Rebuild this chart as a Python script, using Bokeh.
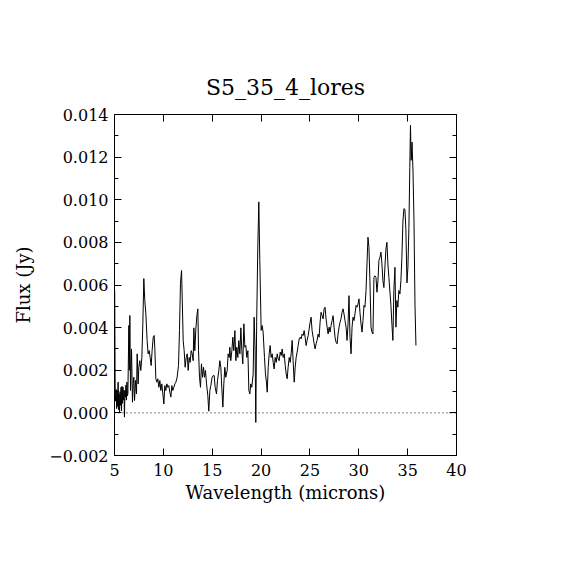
from bokeh.plotting import figure
from bokeh.models import LinearAxis, FixedTicker, Span
from bokeh.embed import file_html
from bokeh.resources import INLINE

title_text = "S5_35_4_lores"
x_label = "Wavelength (microns)"
y_label = "Flux (Jy)"

wavelength = [
    5.02, 5.07, 5.12, 5.17, 5.22, 5.27, 5.32, 5.37, 5.42, 5.47,
    5.52, 5.57, 5.62, 5.67, 5.72, 5.77, 5.82, 5.87, 5.92, 5.97,
    6.02, 6.07, 6.12, 6.17, 6.22, 6.27, 6.32, 6.37, 6.47, 6.52,
    6.57, 6.64, 6.74, 6.84, 6.91, 6.98, 7.05, 7.15, 7.25, 7.32,
    7.42, 7.49, 7.59, 7.69, 7.80, 7.90, 8.00, 8.10, 8.21, 8.34,
    8.44, 8.55, 8.65, 8.75, 8.85, 8.96, 9.06, 9.13, 9.23, 9.33,
    9.43, 9.54, 9.64, 9.74, 9.84, 9.95, 10.05, 10.15, 10.25, 10.36,
    10.46, 10.56, 10.66, 10.77, 10.87, 10.97, 11.07, 11.18, 11.28, 11.41,
    11.55, 11.65, 11.75, 11.86, 11.92, 12.03, 12.13, 12.23, 12.34, 12.44,
    12.54, 12.64, 12.74, 12.85, 12.95, 13.05, 13.12, 13.22, 13.32, 13.43,
    13.53, 13.60, 13.70, 13.80, 13.90, 14.01, 14.11, 14.21, 14.31, 14.42,
    14.55, 14.65, 14.76, 14.86, 14.99, 15.10, 15.20, 15.30, 15.44, 15.54,
    15.68, 15.78, 15.88, 15.98, 16.09, 16.19, 16.29, 16.39, 16.53, 16.63,
    16.74, 16.80, 16.90, 17.01, 17.11, 17.21, 17.32, 17.42, 17.52, 17.62,
    17.72, 17.83, 17.93, 18.03, 18.13, 18.24, 18.34, 18.44, 18.54, 18.65,
    18.75, 18.85, 18.95, 19.05, 19.19, 19.29, 19.39, 19.46, 19.55, 19.67,
    19.77, 19.87, 20.01, 20.11, 20.21, 20.35, 20.45, 20.55, 20.63, 20.73,
    20.83, 20.93, 21.03, 21.14, 21.24, 21.34, 21.44, 21.55, 21.65, 21.75,
    21.85, 21.96, 22.06, 22.16, 22.26, 22.37, 22.47, 22.57, 22.67, 22.77,
    22.88, 22.98, 23.08, 23.18, 23.28, 23.39, 23.49, 23.59, 23.69, 23.80,
    23.90, 24.00, 24.10, 24.20, 24.30, 24.41, 24.51, 24.61, 24.71, 24.82,
    24.92, 25.02, 25.12, 25.22, 25.33, 25.43, 25.53, 25.63, 25.73, 25.84,
    25.94, 26.04, 26.14, 26.25, 26.35, 26.45, 26.55, 26.65, 26.76, 26.86,
    26.96, 27.06, 27.16, 27.27, 27.37, 27.47, 27.57, 27.67, 27.78, 27.88,
    27.98, 28.08, 28.18, 28.29, 28.39, 28.49, 28.59, 28.70, 28.80, 28.90,
    29.00, 29.10, 29.21, 29.31, 29.41, 29.51, 29.61, 29.72, 29.82, 29.92,
    30.02, 30.12, 30.23, 30.33, 30.43, 30.53, 30.63, 30.74, 30.84, 30.94,
    31.04, 31.14, 31.25, 31.35, 31.45, 31.55, 31.65, 31.76, 31.86, 31.96,
    32.06, 32.17, 32.27, 32.37, 32.47, 32.57, 32.68, 32.78, 32.88, 32.98,
    33.08, 33.19, 33.29, 33.39, 33.49, 33.59, 33.70, 33.80, 33.90, 34.00,
    34.10, 34.21, 34.31, 34.41, 34.52, 34.62, 34.72, 34.82, 34.93, 35.03,
    35.13, 35.22, 35.29, 35.36, 35.45, 35.55, 35.65, 35.75, 35.85,
]

flux = [
    0.00575, 0.00100, 0.00055, 0.00110, 0.00020, 0.00105, 0.00030, 0.00144, 0.00015, 0.00089,
    0.00005, 0.00100, 0.00035, 0.00120, 0.00010, 0.00125, 0.00045, 0.00120, 0.00060, 0.00105,
    -0.00020, 0.00105, 0.00074, 0.00130, 0.00060, 0.00144, 0.00080, 0.00090, 0.00410, 0.00200,
    0.00457, 0.00105, 0.00300, 0.00050, 0.00136, 0.00167, 0.00058, 0.00152, 0.00089, 0.00277,
    0.00136, 0.00214, 0.00245, 0.00199, 0.00260, 0.00418, 0.00630, 0.00527, 0.00464, 0.00339,
    0.00277, 0.00292, 0.00260, 0.00222, 0.00292, 0.00355, 0.00363, 0.00300, 0.00160, 0.00144,
    0.00160, 0.00120, 0.00152, 0.00105, 0.00136, 0.00089, 0.00042, 0.00128, 0.00105, 0.00136,
    0.00120, 0.00128, 0.00097, 0.00074, 0.00128, 0.00105, 0.00120, 0.00136, 0.00144, 0.00167,
    0.00222, 0.00386, 0.00606, 0.00668, 0.00558, 0.00339, 0.00292, 0.00214, 0.00260, 0.00277,
    0.00199, 0.00260, 0.00237, 0.00292, 0.00277, 0.00245, 0.00399, 0.00292, 0.00390, 0.00457,
    0.00488, 0.00292, 0.00167, 0.00120, 0.00230, 0.00167, 0.00214, 0.00167, 0.00199, 0.00136,
    0.00081, 0.00008, 0.00105, 0.00128, 0.00167, 0.00175, 0.00175, 0.00120, 0.00089, 0.00152,
    0.00199, 0.00245, 0.00214, 0.00120, 0.00027, 0.00136, 0.00214, 0.00167, 0.00199, 0.00277,
    0.00260, 0.00308, 0.00245, 0.00292, 0.00355, 0.00292, 0.00386, 0.00245, 0.00308, 0.00260,
    0.00339, 0.00277, 0.00399, 0.00292, 0.00230, 0.00418, 0.00308, 0.00316, 0.00260, 0.00292,
    0.00105, 0.00089, 0.00136, 0.00120, 0.00183, 0.00449, 0.00292, -0.00045, 0.00430, 0.00787,
    0.00990, 0.00715, 0.00387, 0.00410, 0.00379, 0.00260, 0.00183, 0.00144, 0.00097, 0.00214,
    0.00277, 0.00316, 0.00260, 0.00277, 0.00237, 0.00206, 0.00260, 0.00237, 0.00277, 0.00253,
    0.00245, 0.00285, 0.00269, 0.00300, 0.00260, 0.00277, 0.00222, 0.00183, 0.00160, 0.00214,
    0.00260, 0.00237, 0.00277, 0.00340, 0.00245, 0.00144, 0.00214, 0.00260, 0.00285, 0.00316,
    0.00347, 0.00355, 0.00347, 0.00370, 0.00363, 0.00386, 0.00355, 0.00316, 0.00340, 0.00363,
    0.00394, 0.00425, 0.00449, 0.00386, 0.00355, 0.00324, 0.00300, 0.00324, 0.00340, 0.00370,
    0.00355, 0.00425, 0.00472, 0.00456, 0.00441, 0.00488, 0.00496, 0.00441, 0.00402, 0.00370,
    0.00402, 0.00379, 0.00410, 0.00433, 0.00456, 0.00402, 0.00355, 0.00332, 0.00324, 0.00370,
    0.00402, 0.00425, 0.00441, 0.00472, 0.00488, 0.00464, 0.00433, 0.00402, 0.00340, 0.00417,
    0.00550, 0.00355, 0.00277, 0.00402, 0.00449, 0.00433, 0.00464, 0.00504, 0.00496, 0.00510,
    0.00535, 0.00472, 0.00417, 0.00379, 0.00433, 0.00504, 0.00496, 0.00574, 0.00699, 0.00824,
    0.00777, 0.00620, 0.00402, 0.00379, 0.00370, 0.00635, 0.00643, 0.00635, 0.00566, 0.00620,
    0.00715, 0.00730, 0.00754, 0.00699, 0.00620, 0.00588, 0.00690, 0.00769, 0.00800, 0.00699,
    0.00635, 0.00566, 0.00504, 0.00417, 0.00340, 0.00574, 0.00683, 0.00402, 0.00527, 0.00496,
    0.00574, 0.00558, 0.00620, 0.00730, 0.00900, 0.00958, 0.00955, 0.00860, 0.00610, 0.00685,
    0.00870, 0.01150, 0.01350, 0.01185, 0.01270, 0.01130, 0.00900, 0.00510, 0.00316,
]

x_ticks = [5, 10, 15, 20, 25, 30, 35, 40]
y_ticks = [-0.002, 0.0, 0.002, 0.004, 0.006, 0.008, 0.010, 0.012, 0.014]
y_tick_labels = ["\u22120.002", "0.000", "0.002", "0.004", "0.006", "0.008", "0.010", "0.012", "0.014"]
y_minor = [-0.001, 0.001, 0.003, 0.005, 0.007, 0.009, 0.011, 0.013]

FONT = "DejaVu Serif"

p = figure(width=562, height=562, x_range=(5, 40), y_range=(-0.002, 0.014),
           output_backend="svg", toolbar_location=None,
           min_border_left=114, min_border_right=106,
           min_border_top=114, min_border_bottom=107)
p.grid.visible = False
p.outline_line_color = None
p.background_fill_color = "white"
p.border_fill_color = "white"

p.title.text = title_text
p.title.align = "center"
p.title.text_font = FONT
p.title.text_font_size = "22px"
p.title.text_font_style = "normal"
p.title.text_color = "black"
p.title.standoff = 29


def style(ax, labels=True):
    ax.axis_line_color = "black"
    ax.axis_line_width = 1
    ax.major_tick_in = 7
    ax.major_tick_out = 0
    ax.minor_tick_in = 4
    ax.minor_tick_out = 0
    ax.major_tick_line_color = "black"
    ax.minor_tick_line_color = "black"
    ax.major_label_text_font = FONT
    ax.major_label_text_font_size = "16px"
    ax.major_label_text_color = "black"
    ax.axis_label_text_font = FONT
    ax.axis_label_text_font_size = "18px"
    ax.axis_label_text_font_style = "normal"
    ax.axis_label_text_color = "black"
    if not labels:
        ax.major_label_text_font_size = "1px"
        ax.major_label_text_color = None
        ax.major_label_standoff = 0


xa = p.xaxis[0]
xa.ticker = FixedTicker(ticks=x_ticks, minor_ticks=[])
xa.axis_label = x_label
style(xa)
xa.major_label_standoff = 8
xa.axis_label_standoff = 3

ya = p.yaxis[0]
ya.ticker = FixedTicker(ticks=y_ticks, minor_ticks=y_minor)
ya.axis_label = y_label
ya.major_label_overrides = dict(zip(y_ticks, y_tick_labels))
style(ya)
ya.major_label_standoff = 6
ya.axis_label_standoff = 12

top = LinearAxis(ticker=FixedTicker(ticks=x_ticks, minor_ticks=[]))
style(top, labels=False)
p.add_layout(top, "above")
right = LinearAxis(ticker=FixedTicker(ticks=y_ticks, minor_ticks=y_minor))
style(right, labels=False)
p.add_layout(right, "right")

p.add_layout(Span(location=0.0, dimension="width", line_color="black",
                  line_width=1, line_dash="1 3"))

p.line(wavelength, flux, line_color="black", line_width=1)

open("out.html", "w").write(file_html(p, INLINE))
